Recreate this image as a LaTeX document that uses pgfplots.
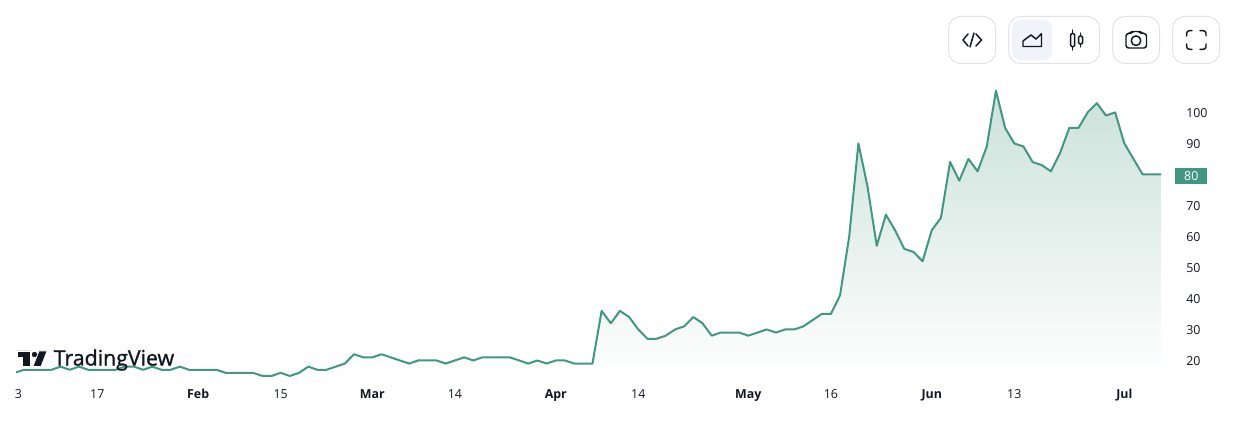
\documentclass[border=0pt]{standalone}
\usepackage{pgfplots}
\pgfplotsset{compat=1.18}
\usepackage{fontspec}
\setmainfont{Open Sans}
\newfontfamily\logofont{Open Sans}
\definecolor{tvline}{HTML}{429782}
\definecolor{tvtop}{HTML}{CBE1DA}
\definecolor{tvtext}{HTML}{131722}
\definecolor{tvborder}{HTML}{E0E3EB}
\definecolor{tvactive}{HTML}{F0F3FA}
\begin{document}
\begin{tikzpicture}
\path[use as bounding box] (0,0) rectangle (924.75pt,325.5pt);
\begin{axis}[
  at={(12pt,41.2pt)},anchor=south west,
  scale only axis,width=858.75pt,height=220.6pt,
  xmin=0.136,xmax=125,ymin=14,ymax=108.87,
  axis line style={draw=none},tick style={draw=none},
  clip=true,
  font=\fontsize{9.3}{11}\selectfont,
  /pgf/number format/assume math mode=true,
  ytick={20,30,40,50,60,70,90,100},
  extra y ticks={80},
  extra y tick style={yticklabel style={fill=tvline,text=white,anchor=west,inner ysep=0pt,inner xsep=0pt,text height=9.4pt,text depth=3.1pt,text width=24pt,align=center,xshift=-8.25pt,yshift=-0.75pt}},
  yticklabel pos=right,
  yticklabel style={anchor=west,inner sep=0pt,xshift=18.75pt,yshift=-0.4pt,text=tvtext},
  xtick={0.4,9,20,29,39,48,59,68,80,89,100,109,121},
  xticklabels={3,17,\textbf{Feb},15,\textbf{Mar},14,\textbf{Apr},14,\textbf{May},16,\textbf{Jun},13,\textbf{Jul}},
  xticklabel style={text=tvtext,anchor=center,text height=7pt,text depth=2pt,yshift=-11.9pt},
]
\addplot[draw=none,shade,top color=tvtop,bottom color=white,shading angle=0] coordinates {
(0,16)(1,17)(2,17)(3,17)(4,17)(5,18)(6,17)(7,18)(8,17)(9,17)(10,17)(11,17)(12,18)(13,18)(14,17)(15,18)(16,17)(17,17)(18,18)(19,17)(20,17)(21,17)(22,17)(23,16)(24,16)(25,16)(26,16)(27,15)(28,15)(29,16)(30,15)(31,16)(32,18)(33,17)(34,17)(35,18)(36,19)(37,22)(38,21)(39,21)(40,22)(41,21)(42,20)(43,19)(44,20)(45,20)(46,20)(47,19)(48,20)(49,21)(50,20)(51,21)(52,21)(53,21)(54,21)(55,20)(56,19)(57,20)(58,19)(59,20)(60,20)(61,19)(62,19)(63,19)(64,36)(65,32)(66,36)(67,34)(68,30)(69,27)(70,27)(71,28)(72,30)(73,31)(74,34)(75,32)(76,28)(77,29)(78,29)(79,29)(80,28)(81,29)(82,30)(83,29)(84,30)(85,30)(86,31)(87,33)(88,35)(89,35)(90,41)(91,60)(92,90)(93,76)(94,57)(95,67)(96,62)(97,56)(98,55)(99,52)(100,62)(101,66)(102,84)(103,78)(104,85)(105,81)(106,89)(107,107)(108,95)(109,90)(110,89)(111,84)(112,83)(113,81)(114,87)(115,95)(116,95)(117,100)(118,103)(119,99)(120,100)(121,90)(122,85)(123,80)(124,80)(125,80)
} \closedcycle;
\addplot[tvline,line width=1.5pt,line join=round] coordinates {
(0,16)(1,17)(2,17)(3,17)(4,17)(5,18)(6,17)(7,18)(8,17)(9,17)(10,17)(11,17)(12,18)(13,18)(14,17)(15,18)(16,17)(17,17)(18,18)(19,17)(20,17)(21,17)(22,17)(23,16)(24,16)(25,16)(26,16)(27,15)(28,15)(29,16)(30,15)(31,16)(32,18)(33,17)(34,17)(35,18)(36,19)(37,22)(38,21)(39,21)(40,22)(41,21)(42,20)(43,19)(44,20)(45,20)(46,20)(47,19)(48,20)(49,21)(50,20)(51,21)(52,21)(53,21)(54,21)(55,20)(56,19)(57,20)(58,19)(59,20)(60,20)(61,19)(62,19)(63,19)(64,36)(65,32)(66,36)(67,34)(68,30)(69,27)(70,27)(71,28)(72,30)(73,31)(74,34)(75,32)(76,28)(77,29)(78,29)(79,29)(80,28)(81,29)(82,30)(83,29)(84,30)(85,30)(86,31)(87,33)(88,35)(89,35)(90,41)(91,60)(92,90)(93,76)(94,57)(95,67)(96,62)(97,56)(98,55)(99,52)(100,62)(101,66)(102,84)(103,78)(104,85)(105,81)(106,89)(107,107)(108,95)(109,90)(110,89)(111,84)(112,83)(113,81)(114,87)(115,95)(116,95)(117,100)(118,103)(119,99)(120,100)(121,90)(122,85)(123,80)(124,80)(125,80)
};
\end{axis}
\begin{scope}[x=0.75pt,y=-0.75pt,yshift=325.5pt]
% TradingView logo
\fill[tvtext,draw=white,line width=0.5pt] (17,351)--(30,351)--(30,366.5)--(22.5,366.5)--(22.5,357.5)--(17,357.5)--cycle;
\fill[tvtext,draw=white,line width=0.5pt] (34.5,354.5) circle (3.2);
\fill[tvtext,draw=white,line width=0.5pt] (39,351)--(47,351)--(41,366.5)--(33,366.5)--cycle;
\node[anchor=west,inner sep=0pt,text=tvtext] at (53.5,360) {\fontsize{16}{18}\selectfont\logofont\addfontfeature{FakeBold=1.2}TradingView};
% toolbar
\tikzset{btn/.style={draw=tvborder,line width=0.75pt,fill=white,rounded corners=9pt},
icon/.style={draw=tvtext,line width=1.1pt,line cap=round,line join=round}}
\path[btn] (948.5,16.5) rectangle (995.5,63.5);
\path[btn] (1008.5,16.5) rectangle (1099.5,63.5);
\path[btn] (1112.5,16.5) rectangle (1159.5,63.5);
\path[btn] (1172.5,16.5) rectangle (1219.5,63.5);
\fill[tvactive,rounded corners=6pt] (1012,20) rectangle (1052,60);
% code icon
\draw[icon] (968,34)--(963,40)--(968,46) (976,34)--(981.5,40)--(976,46) (974,33)--(970,47);
% area icon
\draw[icon] (1023,46.5)--(1023,41)--(1031,35)--(1036,39)--(1041.5,33.8)--(1041.5,46.5)--cycle;
% candle icon
\draw[icon] (1072.7,30)--(1072.7,50) (1080.7,33)--(1080.7,47);
\draw[icon,fill=white,rounded corners=1pt] (1070.7,33.5)rectangle(1074.7,46.7) (1078.6,36)rectangle(1082.6,44);
% camera icon
\draw[icon,rounded corners=2pt] (1126,33.5)--(1130.5,33.5)--(1132,31.5)--(1140,31.5)--(1141.5,33.5)--(1146.5,33.5)--(1146.5,48)--(1126,48)--cycle;
\draw[icon] (1136,40.7) circle (4.8);
% fullscreen icon
\draw[icon,rounded corners=2pt] (1186.7,36)--(1186.7,30.7)--(1192,30.7) (1200,30.7)--(1206,30.7)--(1206,36) (1206,44)--(1206,49.3)--(1200,49.3) (1192,49.3)--(1186.7,49.3)--(1186.7,44);
\end{scope}
\end{tikzpicture}
\end{document}
